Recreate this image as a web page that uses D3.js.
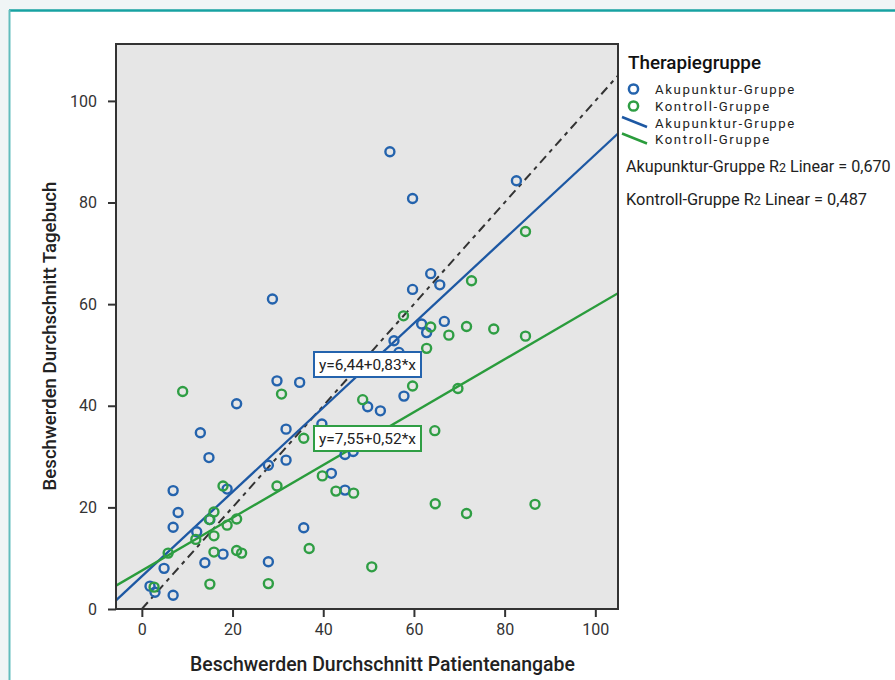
<!DOCTYPE html>
<html><head><meta charset="utf-8">
<script src="https://cdn.jsdelivr.net/npm/d3@7"></script>
<style>
body{margin:0;background:#f0f5f6;}
svg{display:block;font-family:Roboto,"DejaVu Sans",sans-serif;}
</style>
</head><body>
<svg id="c" width="895" height="680"></svg>
<script>
// ---- data ----
const groups = ["Akupunktur-Gruppe", "Kontroll-Gruppe"];
const akuX = [6.9, 8.0, 6.9, 12.1, 18.8, 4.9, 1.8, 2.9, 6.9, 13.9, 17.9, 27.9, 35.7, 29.8, 34.8, 20.9, 12.9, 14.8, 31.8, 27.9, 31.8, 39.7, 41.8, 44.8, 46.6, 44.8, 28.8, 59.7, 65.7, 61.7, 62.8, 66.7, 55.6, 56.7, 57.8, 49.8, 52.6, 54.7, 59.7, 82.6, 63.7, 15.0];
const akuY = [23.3, 19.0, 16.1, 15.2, 23.6, 8.0, 4.5, 3.3, 2.7, 9.1, 10.8, 9.3, 16.0, 44.9, 44.6, 40.4, 34.7, 29.8, 35.4, 28.3, 29.3, 36.4, 26.7, 30.4, 31.0, 23.4, 61.0, 62.9, 63.8, 56.1, 54.4, 56.6, 52.8, 50.5, 41.9, 39.8, 39.0, 90.0, 80.8, 84.3, 66.0, 17.6];
const konX = [17.9, 29.8, 15.9, 14.9, 20.9, 18.8, 11.9, 15.9, 5.8, 15.9, 20.9, 22.0, 15.0, 27.9, 2.7, 9.0, 30.8, 35.7, 39.8, 48.7, 57.7, 63.7, 67.7, 62.8, 59.7, 64.6, 84.6, 72.7, 71.6, 77.6, 84.6, 69.7, 42.8, 46.7, 64.7, 71.6, 86.7, 50.7, 36.9];
const konY = [24.2, 24.2, 19.1, 17.6, 17.7, 16.5, 13.7, 14.4, 11.0, 11.2, 11.5, 11.0, 4.9, 5.0, 4.3, 42.8, 42.3, 33.6, 26.2, 41.2, 57.7, 55.5, 53.9, 51.3, 43.9, 35.1, 74.3, 64.6, 55.6, 55.1, 53.7, 43.4, 23.2, 22.8, 20.7, 18.8, 20.6, 8.3, 11.9];
const intercepts = [6.44, 7.55];
const slopes = [0.83, 0.52];
const fitLabels = ["y=6,44+0,83*x", "y=7,55+0,52*x"];
const r2Values = ["0,670", "0,487"];
const xTicks = [0, 20, 40, 60, 80, 100];
const yTicks = [0, 20, 40, 60, 80, 100];

// ---- styles ----
const colors = ["#2463ad", "#2f9e44"];
const lineColors = ["#1d58a3", "#2a9c3c"];

const svg = d3.select("#c");

// page frame
svg.append("rect").attr("x", 9).attr("y", 10).attr("width", 900).attr("height", 700).attr("fill", "#fff");
svg.append("line").attr("x1", 9).attr("x2", 895).attr("y1", 10.5).attr("y2", 10.5).attr("stroke", "#17a2a2").attr("stroke-width", 2.5);
svg.append("line").attr("x1", 9.5).attr("x2", 9.5).attr("y1", 10).attr("y2", 680).attr("stroke", "#62bdbd").attr("stroke-width", 2);

const L = 116, R = 618, T = 44, B = 609;
const x = d3.scaleLinear().domain([-5.7, 105]).range([L, R]);
const y = d3.scaleLinear().domain([0, 111.2]).range([B, T]);

svg.append("rect").attr("x", L).attr("y", T).attr("width", R - L).attr("height", B - T).attr("fill", "#e6e6e6");

svg.append("clipPath").attr("id", "clip").append("rect").attr("x", L).attr("y", T).attr("width", R - L).attr("height", B - T);
const plot = svg.append("g").attr("clip-path", "url(#clip)");

// reference diagonal
plot.append("line")
  .attr("x1", x(0)).attr("y1", y(0)).attr("x2", x(112)).attr("y2", y(112))
  .attr("stroke", "#333").attr("stroke-width", 2).attr("stroke-dasharray", "9,5,4,5");

// fit lines
groups.forEach((g, i) => {
  const [x0, x1] = x.domain();
  plot.append("line")
    .attr("x1", x(x0)).attr("y1", y(intercepts[i] + slopes[i] * x0))
    .attr("x2", x(x1)).attr("y2", y(intercepts[i] + slopes[i] * x1))
    .attr("stroke", lineColors[i]).attr("stroke-width", 2.3);
});

// points
const series = [d3.zip(akuX, akuY), d3.zip(konX, konY)];
series.forEach((pts, i) => {
  plot.append("g").selectAll("circle").data(pts).join("circle")
    .attr("cx", d => x(d[0])).attr("cy", d => y(d[1])).attr("r", 4.5)
    .attr("fill", "none").attr("stroke", colors[i]).attr("stroke-width", 2.4);
});

// frame
svg.append("rect").attr("x", L).attr("y", T).attr("width", R - L).attr("height", B - T)
  .attr("fill", "none").attr("stroke", "#333").attr("stroke-width", 2);

// axes
const ya = svg.append("g").attr("transform", `translate(${L},0)`)
  .call(d3.axisLeft(y).tickValues(yTicks).tickSize(8).tickPadding(11));
const xa = svg.append("g").attr("transform", `translate(0,${B})`)
  .call(d3.axisBottom(x).tickValues(xTicks).tickSize(8).tickPadding(7));
[ya, xa].forEach(a => {
  a.select(".domain").remove();
  a.selectAll("line").attr("stroke", "#333").attr("stroke-width", 2);
  a.selectAll("text").attr("font-family", "Roboto, sans-serif").attr("font-size", 16).attr("fill", "#333");
});

function fit(sel, w) {
  const n = sel.node();
  const fs = parseFloat(sel.attr("font-size"));
  const len = n.getComputedTextLength();
  const nf = fs * w / len;
  sel.attr("font-size", nf.toFixed(2));
  return nf;
}
function spread(sel, w) {
  const len = sel.node().getComputedTextLength();
  const n = sel.text().length;
  sel.attr("letter-spacing", ((w - len) / n).toFixed(2));
}

// axis titles
const xt = svg.append("text").attr("x", (190 + 575) / 2).attr("y", 671).attr("text-anchor", "middle")
  .attr("font-size", 17).attr("font-weight", 500).attr("fill", "#222")
  .text("Beschwerden Durchschnitt Patientenangabe");
fit(xt, 385);
const yt = svg.append("text").attr("transform", "translate(56,336) rotate(-90)").attr("text-anchor", "middle")
  .attr("font-size", 17).attr("font-weight", 500).attr("fill", "#222")
  .text("Beschwerden Durchschnitt Tagebuch");
fit(yt, 309);

// fit labels
const boxTops = [352, 426];
groups.forEach((g, i) => {
  const gx = svg.append("g");
  gx.append("rect").attr("x", 314).attr("y", boxTops[i]).attr("width", 107).attr("height", 25)
    .attr("fill", "#fff").attr("stroke", colors[i]).attr("stroke-width", 2);
  const t = gx.append("text").attr("x", 367.5).attr("y", boxTops[i] + 18).attr("text-anchor", "middle")
    .attr("font-size", 14).attr("fill", "#222").text(fitLabels[i]);
  fit(t, 97);
});

// legend
const lt = svg.append("text").attr("x", 628).attr("y", 69).attr("font-size", 16).attr("font-weight", 500)
  .attr("fill", "#111").text("Therapiegruppe");
fit(lt, 133);
const rowY = [89, 106, 123, 139.5];
groups.forEach((g, i) => {
  svg.append("circle").attr("cx", 633.5).attr("cy", rowY[i]).attr("r", 4.6)
    .attr("fill", "none").attr("stroke", colors[i]).attr("stroke-width", 2.5);
  svg.append("line").attr("x1", 622).attr("y1", rowY[i + 2] - 6).attr("x2", 647).attr("y2", rowY[i + 2] + 4)
    .attr("stroke", lineColors[i]).attr("stroke-width", 2.5);
});
const probe = svg.append("text").attr("font-size", 13.2).text(groups[0]);
const ls = ((141 - probe.node().getComputedTextLength()) / groups[0].length).toFixed(2);
probe.remove();
[...groups, ...groups].forEach((g, i) => {
  svg.append("text").attr("x", 655).attr("y", rowY[i] + 4.5).attr("font-size", 13.2)
    .attr("letter-spacing", ls).attr("fill", "#222").text(g);
});
const r2Y = [172, 205];
const r2W = [265, 241];
groups.forEach((g, i) => {
  const t = svg.append("text").attr("x", 626).attr("y", r2Y[i]).attr("font-size", 13).attr("fill", "#222");
  t.append("tspan").text(g + " R");
  t.append("tspan").attr("font-size", 10).text("2");
  t.append("tspan").text(" Linear = " + r2Values[i]);
  const len = t.node().getComputedTextLength();
  const k = r2W[i] / len;
  t.attr("font-size", (13 * k).toFixed(2));
  t.select("tspan:nth-child(2)").attr("font-size", (10 * k).toFixed(2));
});
</script>
</body></html>
